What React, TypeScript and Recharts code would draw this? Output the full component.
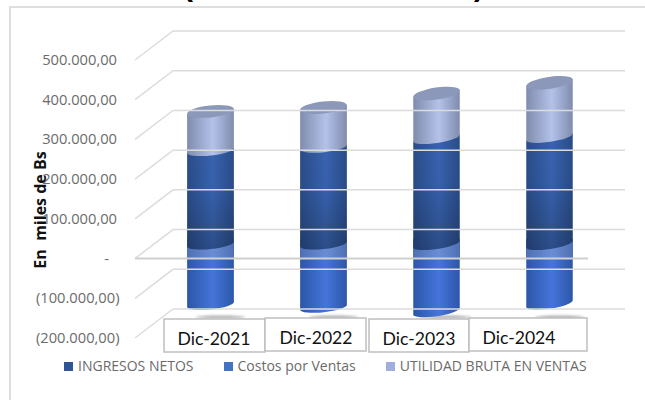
import React from 'react';
import { Bar, BarChart, Legend, ReferenceLine, XAxis, YAxis } from 'recharts';

const categories = ['Dic-2021', 'Dic-2022', 'Dic-2023', 'Dic-2024'];
const ingresosNetos = [235500, 244000, 267000, 270000];
const costosPorVentas = [-152000, -159000, -169000, -150000];
const utilidadBruta = [98500, 100000, 112000, 136000];
const yTicks = [-200000, -100000, 0, 100000, 200000, 300000, 400000, 500000];
const legendOrder = ['INGRESOS NETOS', 'Costos por Ventas', 'UTILIDAD BRUTA EN VENTAS'];
const legendColors = ['#2f5597', '#4472c4', '#a0aedb'];

// fake 3d: how far the back wall sits from the front of the plot
const DEPTH_X = 38;
const DEPTH_Y = 29;
const RY = 5;
const CAP_RY = 6;
const TILT = [6, 6, 8.5, 8.5];

// the label boxes were pasted by hand over the axis, so they are not on a grid
const LABEL_BOXES = [
  { x: 164, y: 319, w: 101, h: 33, tx: 214 },
  { x: 265, y: 318, w: 101, h: 33, tx: 316 },
  { x: 369, y: 319, w: 100, h: 33, tx: 419 },
  { x: 469, y: 318, w: 118, h: 33, tx: 519 },
];

const data = categories.map((name, i) => ({
  name,
  ingresos: ingresosNetos[i],
  costos: costosPorVentas[i],
  utilidad: utilidadBruta[i],
}));

const LABEL_FONT = '"Open Sans", sans-serif';

function formatTick(v: number) {
  const s = Math.abs(v).toLocaleString('de-DE', { minimumFractionDigits: 2 });
  return v < 0 ? `(${s})` : s;
}

function YTick({ y, payload }: any) {
  const v = payload.value;
  return (
    <text
      x={v === 0 ? 109 : v < 0 ? 119.5 : 117}
      y={y + 5}
      textAnchor="end"
      fontFamily={LABEL_FONT}
      fontSize={14.7}
      fill="#6b6b6b"
    >
      {v === 0 ? '-' : formatTick(v)}
    </text>
  );
}

function XTick({ index, payload }: any) {
  const b = LABEL_BOXES[index];
  return (
    <g>
      <rect x={b.x} y={b.y} width={b.w} height={b.h} fill="#fff" stroke="#bfbfbf" strokeWidth={1.5} />
      <text x={b.tx} y={b.y + 26} textAnchor="middle" fontFamily="Lato, sans-serif" fontSize={17.6} fill="#111">
        {payload.value}
      </text>
    </g>
  );
}

function WallLine({ x1, y1, x2, y2 }: any) {
  return (
    <polyline
      points={`${x1},${y1} ${x1 + DEPTH_X},${y1 - DEPTH_Y} ${x2 + DEPTH_X},${y2 - DEPTH_Y}`}
      fill="none"
      stroke="#dcdcdc"
      strokeWidth={1.5}
    />
  );
}

function FrontZeroLine({ x1, y1, x2 }: any) {
  return <line x1={x1} y1={y1} x2={x2 + 1} y2={y1} stroke="#cfcfcf" strokeWidth={2} />;
}

function geometry(props: any) {
  const { x, y, width, height, index } = props;
  const top = Math.min(y, y + height) - DEPTH_Y / 2;
  const bottom = Math.max(y, y + height) - DEPTH_Y / 2;
  const rx = width / 2;
  const cx = x + rx + DEPTH_X / 2;
  const t = (TILT[index] * Math.PI) / 180;
  const dx = rx * Math.cos(t);
  const dy = rx * Math.sin(t);
  const rot = -TILT[index];
  const body =
    `M${cx - dx},${top + dy} L${cx + dx},${top - dy} L${cx + dx},${bottom - dy} ` +
    `A${rx},${RY} ${rot} 0 1 ${cx - dx},${bottom + dy} Z`;
  const cap =
    `M${cx - dx},${top + dy} A${rx},${CAP_RY} ${rot} 0 1 ${cx + dx},${top - dy} ` +
    `A${rx},${CAP_RY} ${rot} 0 1 ${cx - dx},${top + dy} Z`;
  return { cx, top, bottom, dx, dy, rx, rot, body, cap };
}

function IngresosCylinder(props: any) {
  const g = geometry(props);
  return (
    <g>
      <path d={g.body} fill="url(#ingresosSide)" />
      <path d={g.body} fill="url(#ingresosShade)" />
    </g>
  );
}

function CostosCylinder(props: any) {
  const g = geometry(props);
  const bandEnd = g.top + DEPTH_Y / 2;
  return (
    <g>
      <ellipse cx={g.cx + 10} cy={317} rx={25} ry={1.5} fill="#555" opacity={0.45} filter="url(#soft)" />
      <path d={g.body} fill="url(#costosSide)" />
      <rect x={g.cx - g.rx} y={g.top - 5} width={g.rx * 2} height={bandEnd - g.top + 5} fill="url(#bandSide)" />
    </g>
  );
}

function UtilidadCylinder(props: any) {
  const g = geometry(props);
  return (
    <g>
      <path d={g.body} fill="url(#utilidadSide)" />
      <path d={g.cap} fill="#8b98b9" />
    </g>
  );
}

function sideGradient(id: string, edge: string, mid: string) {
  return (
    <linearGradient id={id} x1="0" y1="0" x2="1" y2="0">
      <stop offset="0" stopColor={edge} />
      <stop offset="0.55" stopColor={mid} />
      <stop offset="1" stopColor={edge} />
    </linearGradient>
  );
}

function LegendRow() {
  return (
    <div style={{ display: 'flex', fontFamily: LABEL_FONT, fontSize: 14, color: '#6b6b6b', lineHeight: '16px', whiteSpace: 'nowrap' }}>
      {legendOrder.map((label, i) => (
        <div key={label} style={{ display: 'flex', alignItems: 'center', marginRight: 30 }}>
          <span style={{ width: 9, height: 9, background: legendColors[i], marginRight: 5 }} />
          {label}
        </div>
      ))}
    </div>
  );
}

export default function App() {
  return (
    <div style={{ position: 'absolute', left: 0, top: 0, width: 645, height: 400, overflow: 'hidden', background: '#fff' }}>
      <div
        style={{
          position: 'absolute',
          left: 9,
          top: 6,
          width: 700,
          height: 500,
          border: '2px solid #dedede',
        }}
      />
      <div style={{ position: 'absolute', left: 183, top: -31, font: 'bold 30px "Liberation Sans"', color: '#000' }}>(</div>
      <div style={{ position: 'absolute', left: 474, top: -31, font: 'bold 30px "Liberation Sans"', color: '#000' }}>)</div>
      <BarChart
        width={645}
        height={400}
        data={data}
        stackOffset="sign"
        barSize={47}
        margin={{ top: 60, right: 58, bottom: 0, left: 0 }}
        style={{ position: 'absolute', left: 0, top: 0 }}
      >
        <defs>
          {sideGradient('utilidadSide', '#7f8cad', '#b4c2ea')}
          {sideGradient('ingresosSide', '#2a4c88', '#3863b0')}
          {sideGradient('costosSide', '#2c56a8', '#4575da')}
          {sideGradient('bandSide', '#4f6fb2', '#6a8ed6')}
          <linearGradient id="ingresosShade" x1="0" y1="0" x2="0" y2="1">
            <stop offset="0" stopColor="#000" stopOpacity={0} />
            <stop offset="0.4" stopColor="#000" stopOpacity={0.02} />
            <stop offset="1" stopColor="#000" stopOpacity={0.22} />
          </linearGradient>
          <filter id="soft" x="-20%" y="-100%" width="140%" height="300%">
            <feGaussianBlur stdDeviation="1" />
          </filter>
        </defs>
        <XAxis dataKey="name" height={62} axisLine={false} tickLine={false} tick={<XTick />} interval={0} />
        <YAxis
          width={135}
          domain={[-200000, 500000]}
          ticks={yTicks}
          axisLine={false}
          tickLine={false}
          tick={<YTick />}
          label={{
            content: () => (
              <text
                transform="translate(46 210) rotate(-90)"
                textAnchor="middle"
                fontFamily={LABEL_FONT}
                fontWeight={700}
                fontSize={16}
                fill="#111"
                style={{ whiteSpace: 'pre' }}
              >
                En  miles de Bs
              </text>
            ),
          }}
        />
        {yTicks.map((t) => (
          <ReferenceLine key={t} y={t} shape={<WallLine />} ifOverflow="visible" />
        ))}
        <Bar dataKey="costos" name={legendOrder[1]} stackId="a" fill={legendColors[1]} shape={<CostosCylinder />} isAnimationActive={false} />
        <Bar dataKey="ingresos" name={legendOrder[0]} stackId="a" fill={legendColors[0]} shape={<IngresosCylinder />} isAnimationActive={false} />
        <Bar dataKey="utilidad" name={legendOrder[2]} stackId="a" fill={legendColors[2]} shape={<UtilidadCylinder />} isAnimationActive={false} />
        <ReferenceLine y={0} shape={<FrontZeroLine />} ifOverflow="visible" />
        <Legend
          verticalAlign="middle"
          align="center"
          layout="horizontal"
          content={<LegendRow />}
          wrapperStyle={{ position: 'absolute', left: 64, top: 358, width: 580, height: 18, bottom: 'auto', right: 'auto', margin: 0 }}
        />
      </BarChart>
    </div>
  );
}
